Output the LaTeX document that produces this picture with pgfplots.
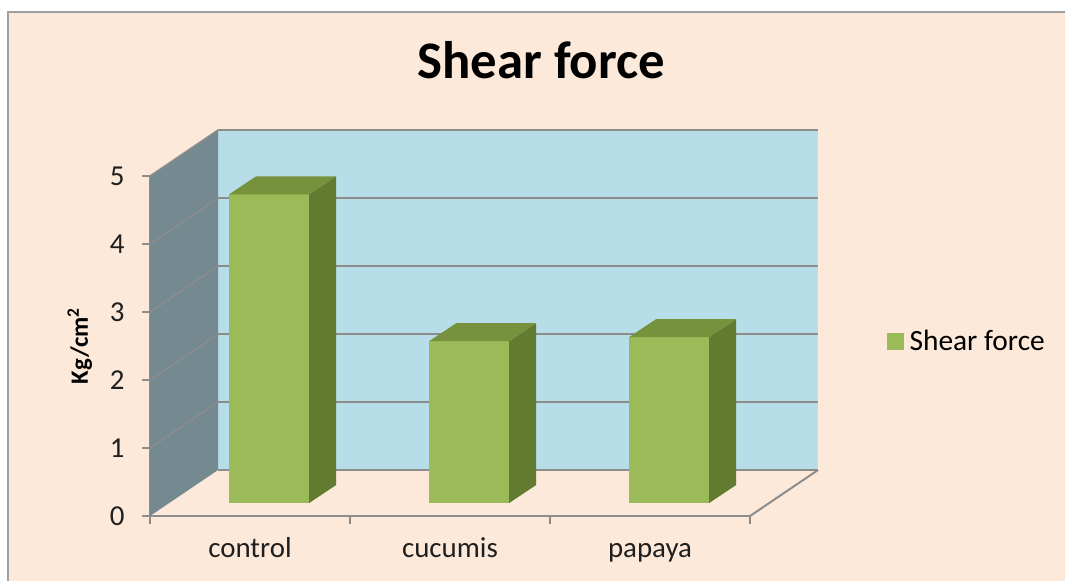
\documentclass[border=0pt]{standalone}
\usepackage{pgfplots}
\pgfplotsset{compat=1.18}
\usepackage{pgfplotstable}
\usepackage{fontspec}
\setmainfont{Carlito}
\definecolor{peach}{HTML}{FDE9D9}
\definecolor{wallblue}{HTML}{B7DEE8}
\definecolor{sidewall}{HTML}{748A90}
\definecolor{barfront}{HTML}{9BBB59}
\definecolor{bartop}{HTML}{76923C}
\definecolor{barside}{HTML}{637A31}
\definecolor{gridc}{HTML}{8C8C8C}
\definecolor{framec}{HTML}{A0A0A0}

\pgfplotstableread{
x v
0.5 4.54
1.5 2.38
2.5 2.44
}\shear

\begin{document}
\begin{tikzpicture}[x=1bp,y=1bp]
\fill[white] (0,0) rectangle (1065,581);
\fill[peach] (8,0) rectangle (1065,569);
\draw[framec, line width=2.5bp] (8,0) -- (8,569) -- (1065,569);
\begin{axis}[
  at={(150bp,65bp)}, anchor=south west,
  scale only axis, width=600bp, height=340bp,
  xmin=0, xmax=3, ymin=0, ymax=5,
  clip=false,
  axis x line*=bottom, axis y line*=left,
  axis line style={gridc, line width=2bp, -},
  xtick={0,1,2,3}, xticklabels={},
  extra x ticks={0.5,1.5,2.5},
  extra x tick labels={control,cucumis,papaya},
  extra x tick style={major tick length=0pt, xticklabel style={anchor=base, yshift=-42bp}},
  ytick={0,1,2,3,4,5},
  yticklabel style={xshift=-14bp},
  tick align=outside, major tick length=8bp,
  tick style={gridc, line width=2bp},
  /pgf/number format/assume math mode=true,
  ticklabel style={font=\fontsize{29}{32}\selectfont, color=black!88},
  ylabel={Kg/cm\textsuperscript{2}},
  ylabel style={font=\bfseries\fontsize{25}{28}\selectfont, at={(axis description cs:-0.117,0.5)}, anchor=center},
  title={Shear force},
  title style={font=\bfseries\fontsize{53}{58}\selectfont, at={(axis description cs:0.652,1.27)}, anchor=base},
  legend style={at={(axis description cs:1.2233,0.5147)}, anchor=west, draw=none, fill=none, font=\fontsize{29.5}{33}\selectfont, nodes={inner xsep=6bp}},
  legend cell align=left,
]
% back wall and side wall
\addplot[fill=wallblue, draw=none, forget plot] coordinates {(0.34,0.676) (3.34,0.676) (3.34,5.676) (0.34,5.676)} -- cycle;
\addplot[fill=sidewall, draw=none, forget plot] coordinates {(0,0) (0.34,0.676) (0.34,5.676) (0,5)} -- cycle;
% back wall gridlines
\addplot[gridc, line width=2bp, forget plot] coordinates {(0.34,0.676) (3.34,0.676)};
\addplot[gridc, line width=2bp, forget plot] coordinates {(0.34,1.676) (3.34,1.676)};
\addplot[gridc, line width=2bp, forget plot] coordinates {(0.34,2.676) (3.34,2.676)};
\addplot[gridc, line width=2bp, forget plot] coordinates {(0.34,3.676) (3.34,3.676)};
\addplot[gridc, line width=2bp, forget plot] coordinates {(0.34,4.676) (3.34,4.676)};
\addplot[gridc, line width=2bp, forget plot] coordinates {(0.34,5.676) (3.34,5.676)};
% side wall gridlines
\addplot[gridc, line width=1.5bp, forget plot] coordinates {(0,1) (0.34,1.676)};
\addplot[gridc, line width=1.5bp, forget plot] coordinates {(0,2) (0.34,2.676)};
\addplot[gridc, line width=1.5bp, forget plot] coordinates {(0,3) (0.34,3.676)};
\addplot[gridc, line width=1.5bp, forget plot] coordinates {(0,4) (0.34,4.676)};
\addplot[gridc, line width=1.5bp, forget plot] coordinates {(0,5) (0.34,5.676)};
% floor right edge
\addplot[gridc, line width=2bp, forget plot] coordinates {(3,0) (3.34,0.676)};
% bars
\pgfplotsforeachungrouped \i in {0,1,2}{%
  \pgfplotstablegetelem{\i}{x}\of\shear \let\cx\pgfplotsretval
  \pgfplotstablegetelem{\i}{v}\of\shear \let\cv\pgfplotsretval
  \pgfmathsetmacro\xa{\cx-0.104}%
  \pgfmathsetmacro\xb{\cx+0.296}%
  \pgfmathsetmacro\xc{\cx+0.431}%
  \pgfmathsetmacro\xd{\cx+0.031}%
  \pgfmathsetmacro\yb{\cv+0.191}%
  \pgfmathsetmacro\yc{\cv+0.456}%
  \edef\cmd{%
    \noexpand\addplot[fill=barfront, draw=none, forget plot] coordinates {(\xa,0.191) (\xb,0.191) (\xb,\yb) (\xa,\yb)} -- cycle;
    \noexpand\addplot[fill=barside, draw=none, forget plot] coordinates {(\xb,0.191) (\xc,0.456) (\xc,\yc) (\xb,\yb)} -- cycle;
    \noexpand\addplot[fill=bartop, draw=none, forget plot] coordinates {(\xa,\yb) (\xb,\yb) (\xc,\yc) (\xd,\yc)} -- cycle;
  }\cmd
}
\addlegendimage{legend image code/.code={\fill[barfront] (0bp,-8bp) rectangle (16bp,8bp);}}
\addlegendentry{Shear force}
\end{axis}
\pgfresetboundingbox
\path[use as bounding box] (0,0) rectangle (1065,581);
\end{tikzpicture}
\end{document}
